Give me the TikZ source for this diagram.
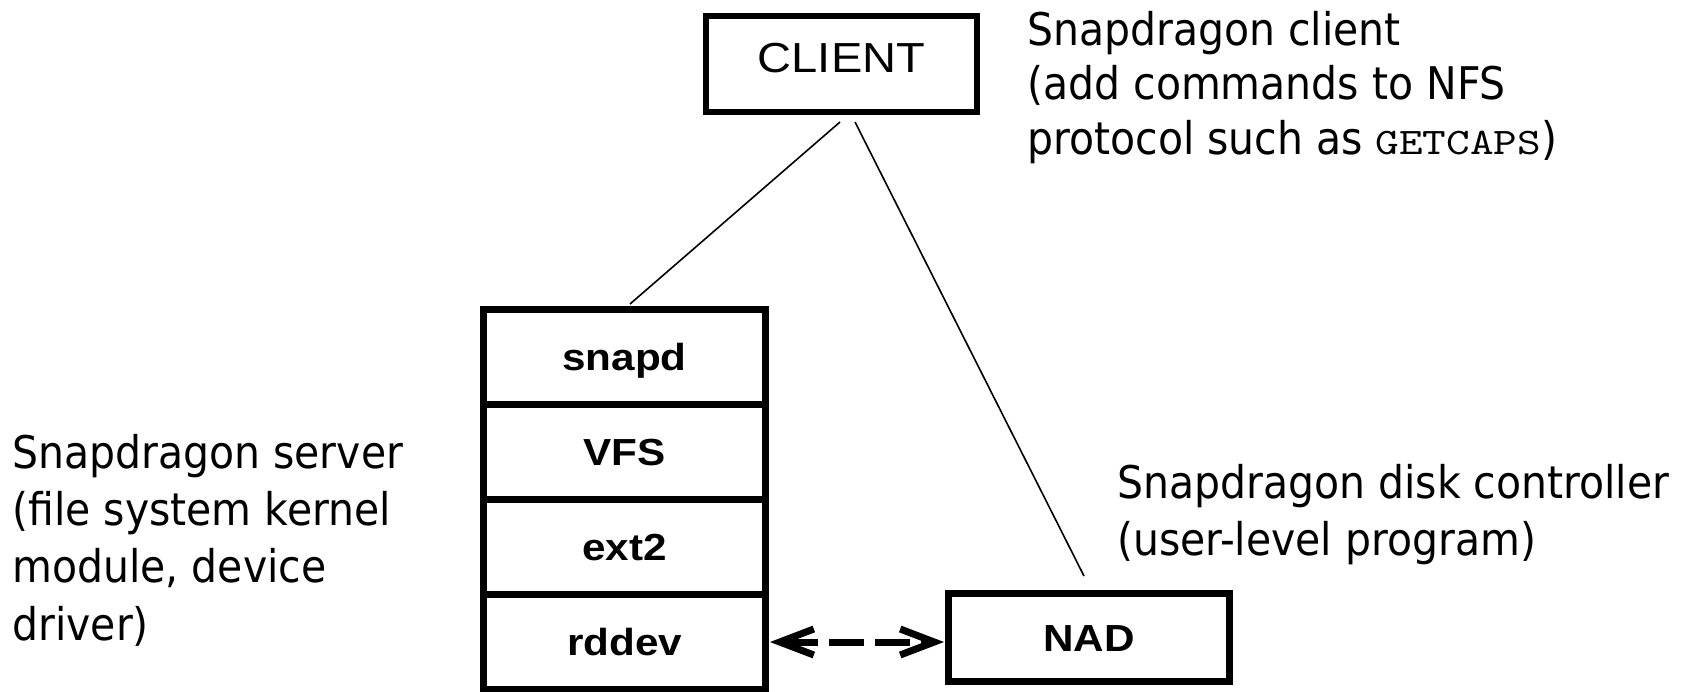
\documentclass[tikz,border=0pt]{standalone}
\usepackage{fontspec}
\newfontfamily\boxfont{Liberation Sans}[FakeStretch=1.12]
\newfontfamily\notefont{DejaVu Sans}[FakeStretch=0.91]
\newfontfamily\capsfont{lmmono10-regular.otf}[FakeStretch=1.2]
\usetikzlibrary{positioning,calc,arrows.meta}

\begin{document}
\begin{tikzpicture}[x=0.5pt,y=-0.5pt,node distance=0pt,
	layer/.style={draw,line width=3.5pt,inner sep=0pt,outer sep=0pt,minimum width=141pt,minimum height=47.5pt,font=\boxfont\bfseries\fontsize{18.85pt}{22pt}\selectfont,text height=13.5pt,text depth=0pt},
	client node/.style={layer,line width=3pt,minimum width=135.5pt,minimum height=48pt,font=\boxfont\fontsize{21pt}{25pt}\selectfont,text height=15pt,text depth=7pt},
	note/.style={anchor=base west,inner sep=0pt,align=left,font=\notefont\fontsize{22.5pt}{27.25pt}\selectfont},
	link/.style={line width=0.8pt},
	nfs/.style={line width=3.5pt,dash pattern=on 17.5pt off 5.5pt,>={Straight Barb[length=17pt,width=13pt,line width=3.5pt]},<->}]
	
	\useasboundingbox (0,0) rectangle (1700,691);
	
	\node[client node] (client) at (841.5,64) {CLIENT};
	\node[layer] (snapd) at (624.5,357) {snapd};
	\node[layer] (vfs) [below=of snapd] {VFS};
	\node[layer] (ext2) [below=of vfs] {ext2};
	\node[layer] (rddev) [below=of ext2] {rddev};
	\node[layer, minimum width=140.5pt, minimum height=44pt] (nad) at (1089,637.5) {NAD};
	
	% notes sit on the baseline of their last line
	\node[note] (clientnote) at (1027,154) {Snapdragon client\\(add commands to NFS\\protocol such as {\capsfont\fontsize{18.75pt}{20pt}\selectfont GETCAPS})};
	\node[note, font=\notefont\fontsize{22.5pt}{28.65pt}\selectfont] (servernote) at (12,640) {Snapdragon server\\(file system kernel\\module, device\\driver)};
	\node[note, font=\notefont\fontsize{22.5pt}{28.5pt}\selectfont] (disknote) at (1117,555) {Snapdragon disk controller\\(user-level program)};
	
	\draw[link] ($(client.south)+(-1.5,10)$) -- ($(snapd.north)+(5.5,-5.5)$);
	\draw[link] ($(client.south)+(13.5,10)$) -- ($(nad.north)+(-5,-17.5)$);
	\draw[nfs] ($(rddev.east)+(4.5,0)$) -- ($(rddev.east -| nad.west)+(-4.5,0)$);
	
\end{tikzpicture}
\end{document}
